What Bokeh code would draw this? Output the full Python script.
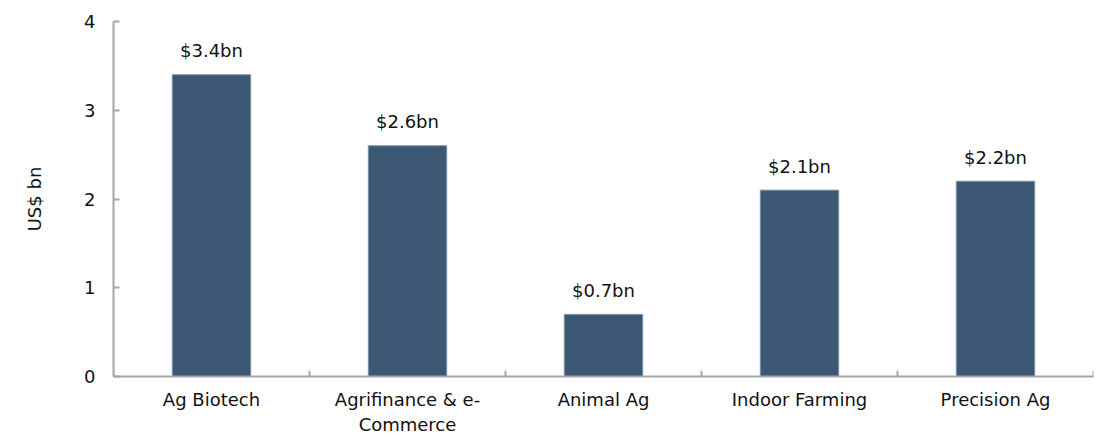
from bokeh.plotting import figure
from bokeh.models import ColumnDataSource, FactorRange, Range1d, FixedTicker
from bokeh.embed import file_html
from bokeh.resources import INLINE
from bokeh.core.properties import value

categories = ["Ag Biotech", "Agrifinance & e-\nCommerce", "Animal Ag", "Indoor Farming", "Precision Ag"]
values = [3.4, 2.6, 0.7, 2.1, 2.2]
labels = ["$3.4bn", "$2.6bn", "$0.7bn", "$2.1bn", "$2.2bn"]
y_ticks = [0, 1, 2, 3, 4]

FONT = "DejaVu Sans"
FS = "18px"
AXIS_COLOR = "#a6a6a6"
TEXT_COLOR = "#111111"

src = ColumnDataSource(dict(cat=categories, val=values, lab=labels))

p = figure(width=1102, height=439, x_range=FactorRange(factors=categories, range_padding=0),
           y_range=Range1d(0, 4), output_backend="svg", toolbar_location=None,
           min_border_left=113, min_border_right=9, min_border_top=21, min_border_bottom=63)
p.outline_line_color = None
p.xgrid.grid_line_color = None
p.ygrid.grid_line_color = None

p.vbar(x="cat", top="val", width=0.4, source=src, fill_color="#3b5773",
       line_color="#7d92a8", line_width=1)

p.text(x="cat", y="val", text="lab", source=src, text_align="center",
       text_baseline="alphabetic", y_offset=-24, text_font=value(FONT),
       text_font_size=FS, text_color=TEXT_COLOR)

# boundary ticks on the category axis
bx = [(categories[0], -0.5)] + [(c, 0.5) for c in categories]
p.segment(x0=bx, y0=[0] * len(bx), x1=bx, y1=[0.065] * len(bx),
          line_color=AXIS_COLOR, line_width=2)

yax = p.yaxis[0]
yax.ticker = FixedTicker(ticks=y_ticks)
yax.axis_label = "US$ bn"
yax.axis_label_text_font = FONT
yax.axis_label_text_font_size = FS
yax.axis_label_text_font_style = "normal"
yax.axis_label_text_color = TEXT_COLOR
yax.axis_label_standoff = 36
yax.major_label_text_font = FONT
yax.major_label_text_font_size = FS
yax.major_label_text_color = TEXT_COLOR
yax.major_label_standoff = 18
yax.major_tick_in = 6
yax.major_tick_out = 0
yax.minor_tick_line_color = None
yax.axis_line_color = AXIS_COLOR
yax.axis_line_width = 2
yax.major_tick_line_color = AXIS_COLOR
yax.major_tick_line_width = 2

xax = p.xaxis[0]
xax.major_label_text_font = FONT
xax.major_label_text_font_size = FS
xax.major_label_text_color = TEXT_COLOR
xax.major_label_standoff = 12
xax.major_tick_line_color = None
xax.major_tick_in = 0
xax.major_tick_out = 0
xax.axis_line_color = AXIS_COLOR
xax.axis_line_width = 2

open("out.html", "w").write(file_html(p, INLINE))
